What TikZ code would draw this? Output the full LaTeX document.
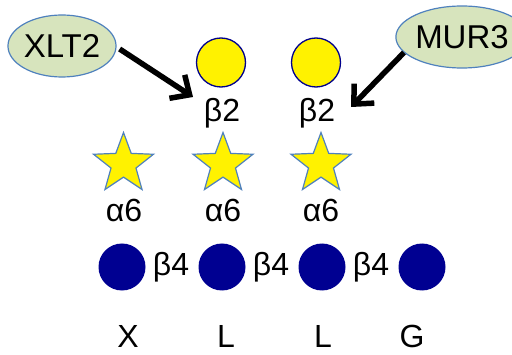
\documentclass[tikz,border=0pt]{standalone}
\usepackage{fontspec}
\setmainfont{Liberation Sans}
\usetikzlibrary{shapes.geometric,arrows.meta,positioning}
\definecolor{ovalfill}{RGB}{215,228,189}
\definecolor{ovalline}{RGB}{79,129,189}
\definecolor{galline}{RGB}{0,0,140}
\definecolor{glcfill}{RGB}{0,0,145}
\begin{document}
\begin{tikzpicture}[
    x=1pt, y=1pt,
    node distance=100pt,
    enzyme/.style={ellipse, draw=ovalline, fill=ovalfill, line width=1.2pt, inner sep=0pt, font=\fontsize{33}{33}\selectfont},
    gal/.style={circle, draw=galline, fill=yellow, line width=1.3pt, minimum size=49pt, inner sep=0pt},
    xyl/.style={star, star points=5, star point ratio=2.4, draw=ovalline, fill=yellow, line width=1.2pt, minimum size=63pt, inner sep=0pt},
    glc/.style={circle, fill=glcfill, minimum size=47pt, inner sep=0pt},
    lbl/.style={anchor=base, inner sep=0pt, font=\fontsize{32}{32}\selectfont},
    arrow/.style={-{Straight Barb[length=15pt, width=28pt]}, line width=5.5pt, line cap=butt}
]
    \useasboundingbox (0,0) rectangle (512,354);

    % Backbone
    \node[glc] (glc1) at (122,87) {};
    \node[glc, right of=glc1] (glc2) {};
    \node[glc, right of=glc2] (glc3) {};
    \node[glc, right of=glc3] (glc4) {};

    % Side chains
    \node[xyl, above of=glc1, xshift=1.5pt, yshift=3pt] (xyl1) {};
    \node[xyl, above of=glc2, xshift=1pt, yshift=3pt] (xyl2) {};
    \node[xyl, above of=glc3, xshift=-1pt, yshift=3pt] (xyl3) {};
    \node[gal] (gal1) at (221,291.5) {};
    \node[gal, right of=gal1, xshift=-5pt] (gal2) {};

    % Enzymes
    \node[enzyme, minimum width=102pt, minimum height=62pt] (xlt2) at (62,308) {XLT2};
    \node[enzyme, minimum width=106pt, minimum height=62pt] (mur3) at (462,317) {MUR3};

    % Labels
    \node[lbl] (b2a) at (222,232) {β2};
    \node[lbl] (b2b) at (317,232) {β2};
    \node[lbl] (a6a) at (124,132) {α6};
    \node[lbl] (a6b) at (223,132) {α6};
    \node[lbl] (a6c) at (321,132) {α6};
    \node[lbl] (b4a) at (171,78) {β4};
    \node[lbl] (b4b) at (271,78) {β4};
    \node[lbl] (b4c) at (371,78) {β4};
    \node[lbl] (lx) at (128,7) {X};
    \node[lbl] (ll1) at (226,7) {L};
    \node[lbl] (ll2) at (323,7) {L};
    \node[lbl] (lg) at (412,7) {G};

    % Transfers
    \coordinate (tipL) at (193,257);
    \coordinate (tipR) at (351,247);
    \draw[arrow] ([xshift=3pt,yshift=-3pt]xlt2.east) -- (tipL);
    \draw[arrow] (mur3.195) -- (tipR);
\end{tikzpicture}
\end{document}
